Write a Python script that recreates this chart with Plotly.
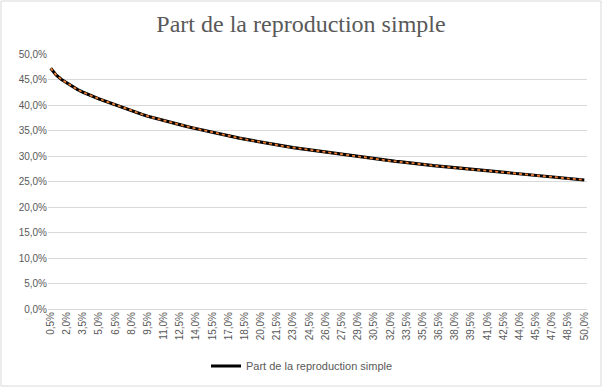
import plotly.graph_objects as go

# Categories: 0,5% .. 50,0% in 0,5% steps
categories = [f"{v/2:.1f}".replace(".", ",") + "%" for v in range(1, 101)]

# Series values (in %)
part_repro_simple = [
    47.2, 45.9, 45.0, 44.3, 43.6, 43.0, 42.5, 42.0, 41.6, 41.2,
    40.8, 40.4, 40.0, 39.6, 39.2, 38.85, 38.5, 38.15, 37.8, 37.5,
    37.2, 36.9, 36.6, 36.35, 36.1, 35.85, 35.6, 35.35, 35.1, 34.9,
    34.65, 34.4, 34.2, 33.95, 33.75, 33.5, 33.3, 33.1, 32.9, 32.7,
    32.5, 32.3, 32.1, 31.95, 31.8, 31.65, 31.5, 31.35, 31.2, 31.05,
    30.9, 30.75, 30.6, 30.45, 30.3, 30.15, 30.0, 29.85, 29.7, 29.55,
    29.45, 29.3, 29.2, 29.05, 28.95, 28.85, 28.7, 28.6, 28.45, 28.35,
    28.25, 28.1, 28.0, 27.9, 27.8, 27.7, 27.6, 27.5, 27.4, 27.3,
    27.2, 27.1, 27.0, 26.9, 26.8, 26.7, 26.6, 26.5, 26.4, 26.3,
    26.2, 26.1, 26.0, 25.9, 25.8, 25.7, 25.6, 25.5, 25.4, 25.3,
]

y_tick_vals = [0, 5, 10, 15, 20, 25, 30, 35, 40, 45, 50]
y_tick_text = [f"{v:.1f}".replace(".", ",") + "%" for v in y_tick_vals]
x_tick_vals = categories[::3]

title_text = "Part de la reproduction simple"
series_name = "Part de la reproduction simple"

fig = go.Figure()
fig.add_trace(go.Scatter(
    x=categories, y=part_repro_simple, mode="lines", name=series_name,
    line=dict(color="#000000", width=3.2), showlegend=True,
))
fig.add_trace(go.Scatter(
    x=categories, y=part_repro_simple, mode="lines", name=series_name,
    line=dict(color="#ED7D31", width=1.8, dash="dot"), showlegend=False,
))

W, H = 602, 387
ml, mr, mt, mb = 48, 15, 54, 78
pw, ph = W - ml - mr, H - mt - mb

fig.update_layout(
    width=W, height=H,
    margin=dict(l=ml, r=mr, t=mt, b=mb, autoexpand=False),
    paper_bgcolor="white", plot_bgcolor="white",
    font=dict(family="Liberation Sans, Arial, sans-serif", color="#595959", size=10),
    title=dict(text=title_text, x=0.5, xanchor="center", y=1 - 24 / H, yanchor="middle",
               font=dict(family="Liberation Serif, Times New Roman, serif", size=24, color="#595959")),
    xaxis=dict(type="category", range=[-0.5, 99.5], tickmode="array", tickvals=x_tick_vals,
               ticktext=x_tick_vals, tickangle=-90, showgrid=False, showline=False,
               ticks="", tickfont=dict(size=10, color="#595959"), fixedrange=True,
               automargin=False),
    yaxis=dict(range=[0, 50], tickmode="array", tickvals=y_tick_vals, ticktext=y_tick_text,
               showgrid=True, gridcolor="#d9d9d9", gridwidth=1, zeroline=True,
               zerolinecolor="#d9d9d9", zerolinewidth=1, showline=False, ticks="",
               tickfont=dict(size=10, color="#595959"), fixedrange=True, automargin=False),
    showlegend=True,
    legend=dict(orientation="h", x=(302 - ml) / pw, xanchor="center",
                y=(309 - 366) / ph, yanchor="middle", font=dict(size=11, color="#595959"),
                bgcolor="rgba(0,0,0,0)"),
    shapes=[dict(type="rect", xref="paper", yref="paper",
                 x0=(1 - ml) / pw, x1=(601 - ml) / pw,
                 y0=(309 - 386) / ph, y1=(309 - 1) / ph,
                 line=dict(color="#d9d9d9", width=1), layer="below")],
)

fig.write_html("out.html", config={"displayModeBar": False},
               post_script="document.body.style.margin='0';document.body.style.overflow='hidden';")
